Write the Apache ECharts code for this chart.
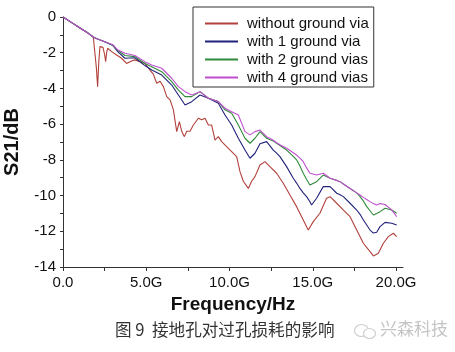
<!DOCTYPE html>
<html>
<head>
<meta charset="utf-8">
<script src="https://cdn.jsdelivr.net/npm/echarts@6/dist/echarts.min.js"></script>
<style>
  html, body { margin: 0; padding: 0; background: #fff; }
  #chart { width: 455px; height: 352px; }
</style>
</head>
<body>
<div id="chart"></div>
<script>
// ---- data (frequency in GHz, S21 in dB) ----
const seriesNames = ['without ground via', 'with 1 ground via', 'with 2 ground vias', 'with 4 ground vias'];

const freqNoVia = [0, 0.5, 1.0, 1.5, 1.82, 1.9, 2.0, 2.08, 2.15, 2.22, 2.4, 2.5, 2.56, 2.62, 2.68, 2.92, 3.22, 3.52, 3.82, 4.12, 4.32, 4.62, 4.92, 5.22, 5.42, 5.63, 5.83, 6.03, 6.23, 6.43, 6.63, 6.83, 6.99, 7.13, 7.29, 7.43, 7.63, 7.83, 8.13, 8.33, 8.53, 8.73, 8.93, 9.13, 9.33, 9.53, 9.83, 10.13, 10.43, 10.63, 10.83, 11.13, 11.33, 11.53, 11.83, 12.13, 12.43, 12.83, 13.23, 13.63, 14.03, 14.43, 14.73, 15.03, 15.43, 15.83, 16.04, 16.44, 16.84, 17.24, 17.64, 18.04, 18.44, 18.64, 18.94, 19.24, 19.54, 19.84, 20.04];
const lossNoVia = [0, -0.3, -0.6, -0.9, -1.12, -1.2, -2.8, -3.9, -2.5, -1.66, -1.7, -2.1, -2.5, -2.0, -1.75, -1.94, -2.13, -2.31, -2.6, -2.46, -2.4, -2.5, -2.6, -2.97, -3.2, -3.71, -3.6, -3.9, -4.46, -4.64, -5.2, -6.42, -5.86, -6.4, -6.7, -6.4, -6.4, -6.05, -5.67, -5.76, -5.67, -6.05, -6.05, -6.89, -6.7, -6.98, -7.26, -7.54, -7.82, -8.66, -9.2, -9.6, -9.2, -8.94, -8.29, -8.1, -8.38, -8.75, -9.31, -9.97, -10.62, -11.37, -11.93, -11.46, -10.99, -10.15, -10.06, -10.43, -10.81, -11.18, -11.93, -12.67, -13.14, -13.38, -13.23, -12.67, -12.3, -12.11, -12.3];

const freqVias = [0, 0.5, 1.0, 1.5, 1.82, 2.0, 2.5, 3.0, 3.3, 3.72, 4.32, 4.92, 5.33, 5.93, 6.53, 6.93, 7.33, 7.73, 8.23, 8.73, 9.33, 9.73, 10.13, 10.53, 10.93, 11.23, 11.53, 11.83, 12.23, 12.63, 12.83, 13.03, 13.43, 13.83, 14.03, 14.23, 14.43, 14.63, 14.83, 14.93, 15.23, 15.63, 16.04, 16.44, 16.64, 16.84, 17.24, 17.64, 17.84, 18.04, 18.24, 18.44, 18.64, 18.74, 18.84, 19.04, 19.14, 19.34, 19.44, 19.74, 19.84, 20.04];
const lossOneVia = [0, -0.3, -0.6, -0.9, -1.12, -1.2, -1.38, -1.6, -1.95, -2.31, -2.28, -2.72, -2.97, -3.25, -3.81, -4.37, -4.93, -4.74, -4.37, -4.55, -4.83, -5.49, -6.05, -6.79, -7.45, -7.91, -7.63, -7.1, -6.98, -7.45, -7.62, -7.82, -8.38, -9.03, -9.3, -9.6, -9.85, -10.06, -10.35, -10.53, -10.15, -9.5, -9.5, -9.87, -9.95, -10.06, -10.43, -10.81, -11.05, -11.37, -11.65, -11.93, -12.1, -12.21, -12.05, -11.74, -11.65, -11.5, -11.46, -11.55, -11.6, -11.65];
const lossTwoVias = [0, -0.3, -0.6, -0.9, -1.12, -1.2, -1.38, -1.58, -1.88, -2.16, -2.22, -2.6, -2.78, -3.06, -3.62, -4.09, -4.46, -4.46, -4.18, -4.55, -4.74, -5.2, -5.39, -6.05, -6.79, -7.07, -6.79, -6.42, -6.79, -6.95, -7.07, -7.2, -7.45, -7.8, -8.0, -8.35, -8.75, -9.1, -9.41, -9.35, -9.22, -8.85, -9.03, -9.15, -9.22, -9.35, -9.6, -9.85, -10.06, -10.3, -10.62, -10.85, -11.09, -11.05, -11.0, -10.9, -10.8, -10.71, -10.72, -10.81, -10.88, -10.99];
const lossFourVias = [0, -0.3, -0.6, -0.9, -1.12, -1.2, -1.38, -1.56, -1.85, -2.03, -2.16, -2.5, -2.69, -2.87, -3.43, -3.9, -4.18, -4.37, -4.18, -4.55, -4.74, -5.11, -5.3, -5.49, -6.42, -6.6, -6.42, -6.33, -6.7, -6.9, -7.04, -7.15, -7.35, -7.6, -7.73, -7.9, -8.1, -8.45, -8.75, -8.8, -8.85, -8.75, -9.03, -9.15, -9.22, -9.35, -9.6, -9.85, -9.97, -10.1, -10.22, -10.34, -10.45, -10.5, -10.53, -10.45, -10.43, -10.5, -10.53, -10.8, -10.9, -11.18];

const yTicksMin = -14, yTicksMax = 0, yTickStep = 2;
const xMajorTicks = [0, 5, 10, 15, 20];
const xAllTicks = [0, 2.5, 5, 7.5, 10, 12.5, 15, 17.5, 20];
const xAxisMax = 20.42;

const colors = ['#b3413b', '#22227c', '#2f8a3a', '#c04fd0'];
const captionText = '图 9  接地孔对过孔损耗的影响';
const watermarkText = '兴森科技';

function pairs(xs, ys) { return xs.map((x, i) => [x, ys[i]]); }

const chart = echarts.init(document.getElementById('chart'), null, { renderer: 'canvas' });
const font = "'Liberation Sans', Arial, sans-serif";
const datasets = [pairs(freqNoVia, lossNoVia), pairs(freqVias, lossOneVia), pairs(freqVias, lossTwoVias), pairs(freqVias, lossFourVias)];

chart.setOption({
  animation: false,
  backgroundColor: '#fff',
  color: colors,
  grid: { left: 63, right: 52, top: 17, bottom: 85, containLabel: false, outerBoundsMode: 'none' },
  legend: {
    orient: 'vertical',
    left: 193, top: 7,
    padding: [9, 5, 2, 12],
    icon: 'rect',
    itemWidth: 33, itemHeight: 2, itemGap: 3,
    borderColor: '#333', borderWidth: 1,
    backgroundColor: '#fff',
    textStyle: { fontFamily: font, fontSize: 15, lineHeight: 14, color: '#111', padding: [0, 0, 0, 4] },
    data: seriesNames.map((n, i) => ({ name: n, itemStyle: { color: colors[i] } }))
  },
  xAxis: {
    type: 'value', min: 0, max: xAxisMax,
    name: 'Frequency/Hz', nameLocation: 'middle', nameGap: 26,
    nameTextStyle: { fontFamily: font, fontSize: 19, fontWeight: 'bold', color: '#111' },
    axisLine: { show: true, onZero: false, lineStyle: { color: '#333', width: 1 } },
    axisTick: { show: true, inside: false, length: 4, customValues: xAllTicks, lineStyle: { color: '#333' } },
    axisLabel: {
      customValues: xMajorTicks, margin: 8,
      fontFamily: font, fontSize: 15, color: '#111',
      formatter: v => v === 0 ? '0.0' : v.toFixed(1) + 'G'
    },
    splitLine: { show: false }
  },
  yAxis: {
    type: 'value', min: yTicksMin, max: yTicksMax, interval: yTickStep,
    name: 'S21/dB', nameLocation: 'middle', nameGap: 41, nameRotate: 90,
    nameTextStyle: { fontFamily: font, fontSize: 20, fontWeight: 'bold', color: '#111' },
    axisLine: { show: true, onZero: false, lineStyle: { color: '#333', width: 1 } },
    axisTick: { show: true, inside: false, length: 3, lineStyle: { color: '#333' } },
    minorTick: { show: true, splitNumber: 2, length: 3, lineStyle: { color: '#333' } },
    axisLabel: { margin: 7, fontFamily: font, fontSize: 15, color: '#111' },
    splitLine: { show: false }
  },
  series: seriesNames.map((n, i) => ({
    name: n, type: 'line', data: datasets[i], symbol: 'none', smooth: false,
    lineStyle: { width: 1.1, color: colors[i] }, itemStyle: { color: colors[i] }
  })),
  graphic: [
    { type: 'text', left: 115, top: 321,
      style: { text: captionText, font: "16.6px 'Noto Sans CJK SC', sans-serif", fill: '#333' } },
    { type: 'group', left: 352, top: 322, children: [
      { type: 'ellipse', shape: { cx: 7, cy: 7, rx: 7, ry: 6 }, style: { fill: 'none', stroke: '#cfcfcf', lineWidth: 1.2 } },
      { type: 'ellipse', shape: { cx: 15, cy: 10, rx: 6, ry: 5 }, style: { fill: '#fff', stroke: '#cfcfcf', lineWidth: 1.2 } }
    ] },
    { type: 'text', left: 380, top: 320,
      style: { text: watermarkText, font: "17px 'Noto Sans CJK SC', sans-serif", fill: '#c4c4c4' } }
  ]
});
</script>
</body>
</html>
